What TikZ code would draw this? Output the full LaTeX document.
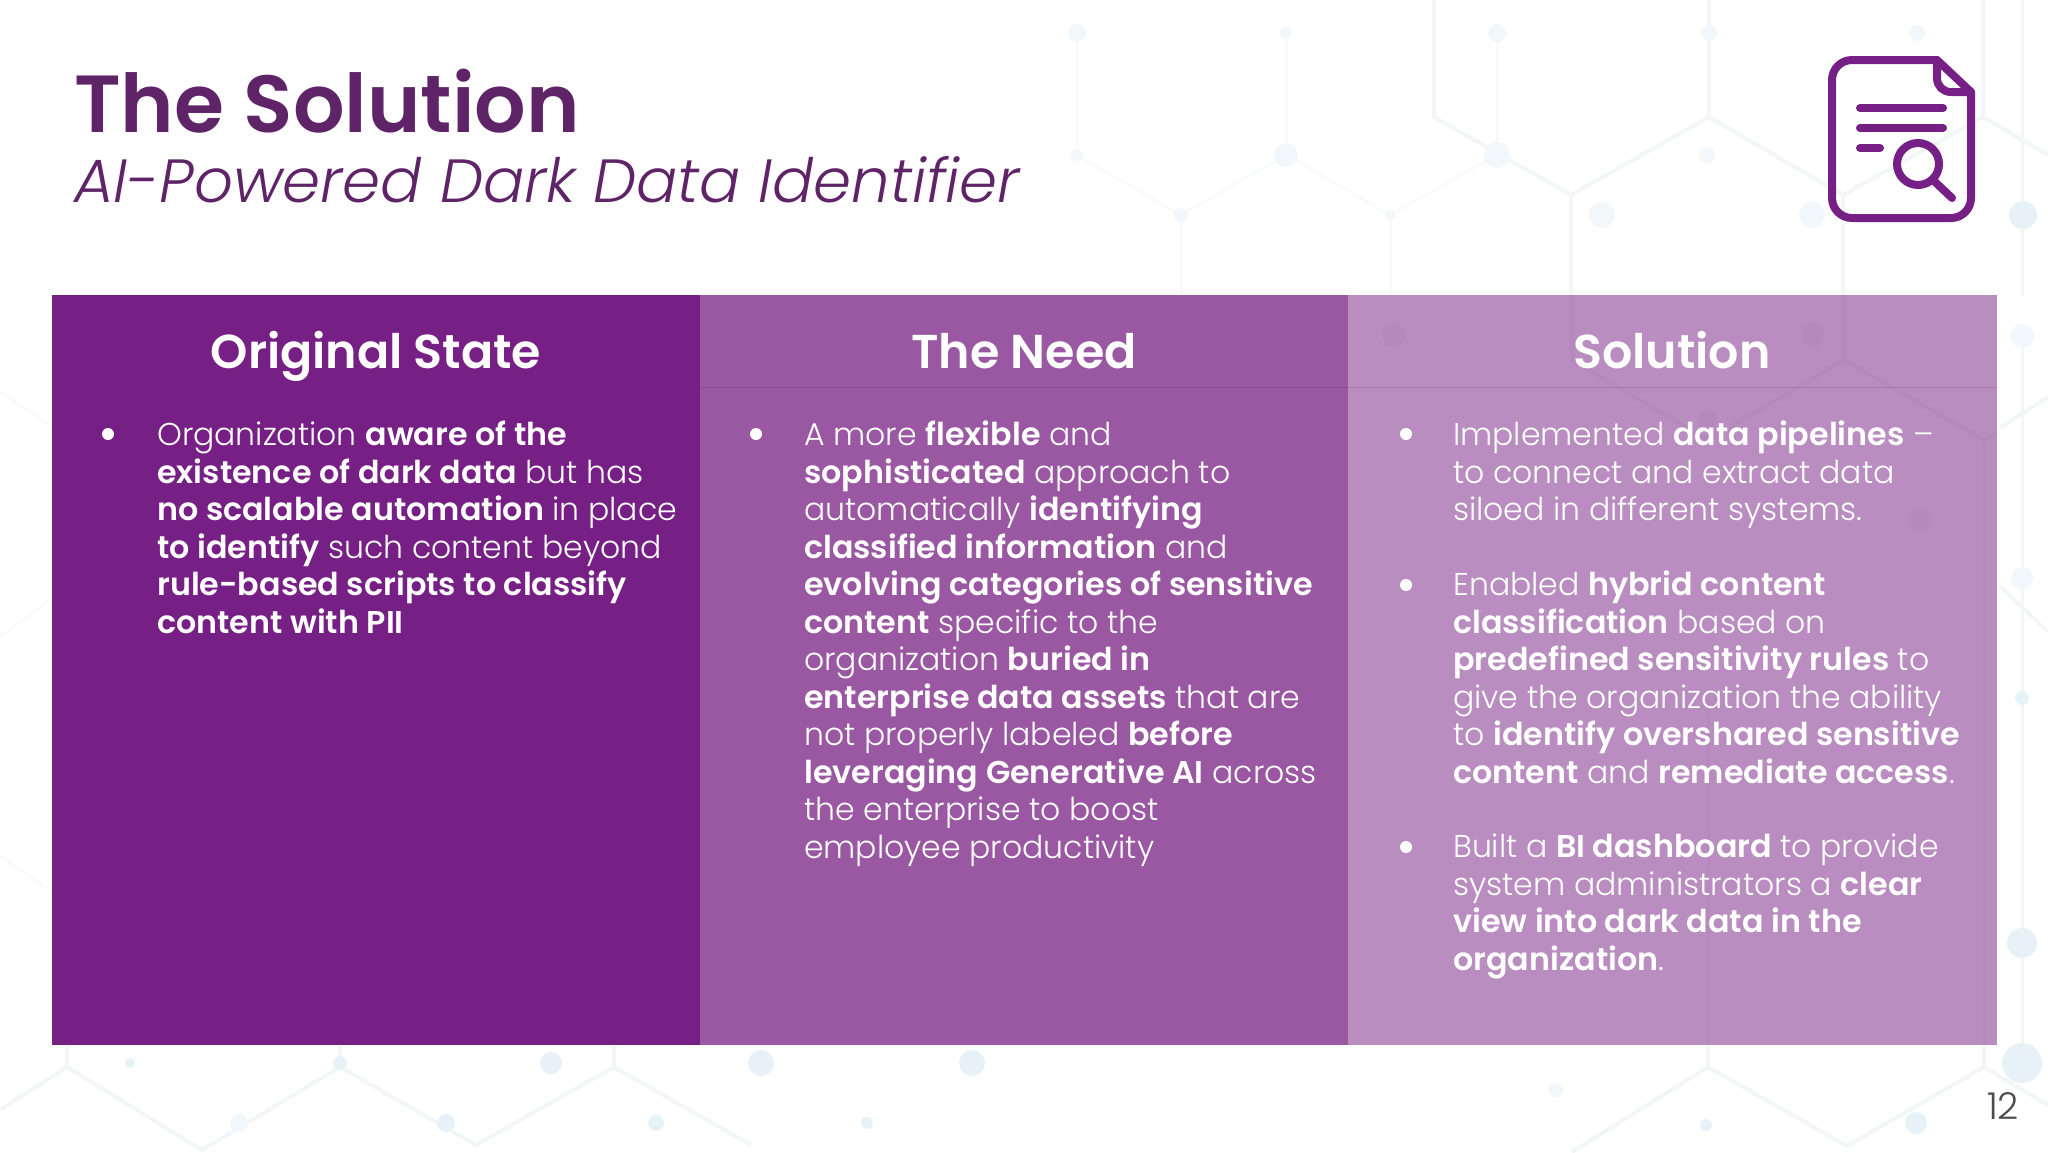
\documentclass[tikz,border=0pt]{standalone}
\usepackage{fontspec}
\setmainfont{Poppins}[UprightFont=* Light,ItalicFont=* Light Italic,BoldFont=* SemiBold,BoldFeatures={FakeStretch=1.008}]
\newfontfamily\headfont{Poppins SemiBold}
\definecolor{deeppurple}{HTML}{761F84}
\definecolor{midpurple}{HTML}{9A57A2}
\definecolor{palepurple}{HTML}{B98DC0}
\definecolor{titlepurple}{HTML}{5F2368}
\definecolor{hexline}{HTML}{F2F6F7}
\definecolor{hexfaint}{HTML}{F9FBFB}
\definecolor{hexdot}{HTML}{E6F2F7}
\definecolor{hexdotfaint}{HTML}{F1F7FA}
\tikzset{
  colbox/.style = {inner sep = 0, outer sep = 0},
  colhead/.style = {text = white, anchor = base, font = \headfont\fontsize{47.5}{48}\selectfont},
  coltext/.style = {text = white, anchor = north west, align = left, inner sep = 0, font = \fontsize{31.5}{37.5}\selectfont},
  colbullet/.style = {circle, fill = white, inner sep = 0, minimum size = 12},
  iconline/.style = {draw = deeppurple, line width = 8, line cap = round, line join = round}
}
\begin{document}
\begin{tikzpicture}[x = 1pt, y = -1pt]
\useasboundingbox (0,0) rectangle (2048,1152);
% background network
\draw [hexfaint, line width = 3] (1077,33) -- (1077,155) -- (1181,215) -- (1286,155) -- (1286,33);
\draw [hexfaint, line width = 3] (1286,155) -- (1390,215) -- (1497,155) -- (1497,33);
\draw [hexfaint, line width = 3] (1181,215) -- (1181,296);
\draw [hexfaint, line width = 3] (1390,215) -- (1390,296);
\draw [hexfaint, line width = 3] (0,392) -- (50,425);
\draw [hexfaint, line width = 3] (0,637) -- (50,600);
\draw [hexfaint, line width = 3] (0,856) -- (50,890);
\draw [hexline, line width = 4] (0,1110) -- (67,1067) -- (202,1150) -- (340,1067) -- (476,1145) -- (614,1067) -- (751,1145);
\draw [hexline, line width = 4] (67,1046) -- (67,1067);
\draw [hexline, line width = 4] (340,1046) -- (340,1067);
\draw [hexline, line width = 4] (614,1046) -- (614,1067);
\draw [hexline, line width = 4] (1572,1152) -- (1708,1067) -- (1847,1146) -- (1984,1067) -- (2048,1105);
\draw [hexline, line width = 4] (1708,1046) -- (1708,1067);
\draw [hexline, line width = 4] (1984,1046) -- (1984,1067);
\draw [hexline, line width = 4] (1434,0) -- (1434,117) -- (1571,195) -- (1709,117) -- (1709,0);
\draw [hexline, line width = 4] (1709,117) -- (1843,195) -- (1983,117) -- (1983,0);
\draw [hexline, line width = 4] (1983,117) -- (2048,155);
\draw [hexline, line width = 4] (1571,195) -- (1571,296);
\draw [hexline, line width = 4] (1843,195) -- (1843,296);
\draw [hexline, line width = 4] (2000,428) -- (2048,397);
\draw [hexline, line width = 4] (2000,586) -- (2048,632);
\draw [hexline, line width = 3] (2022,0) -- (2022,296);
\draw [hexline, line width = 3] (2022,336) -- (2022,1046);
\foreach \x/\y/\r in {1077/33/9,1286/33/6,1497/33/9,1709/33/8,1917/33/8,1077/155/6,1286/155/12,1497/155/13,1707/155/8,1181/215/7,1390/215/5,1602/215/13,1812/215/13,2022/336/12,2022/578/11,239/1123/9,1556/1090/7}
\fill [hexdotfaint] (\x,\y) circle (\r);
\foreach \x/\y/\r in {2023/215/14,2022/698/7,2022/943/15,2022/1063/20,130/1063/5,340/1063/7,551/1063/11,761/1063/13,972/1063/13,446/1123/9,656/1123/8,867/1123/6,1706/1125/6,1916/1123/11}
\fill [hexdot] (\x,\y) circle (\r);
% columns
\node (stateBox) [colbox, fill = deeppurple, minimum width = 648, minimum height = 750, anchor = north west] at (52,295) {};
\node (needBox) [colbox, fill = midpurple, minimum width = 648, minimum height = 750, anchor = north west] at (700,295) {};
\node (solutionBox) [colbox, fill = palepurple, minimum width = 649, minimum height = 750, anchor = north west] at (1348,295) {};
\draw [black, opacity = 0.1] (700,387) -- (1997,387);
% network showing through the last column
\draw [deeppurple, opacity = 0.035, line width = 4] (1572,295) -- (1572,360) -- (1708,440) -- (1844,360) -- (1984,440) -- (1997,432);
\draw [deeppurple, opacity = 0.035, line width = 4] (1844,295) -- (1844,360);
\draw [deeppurple, opacity = 0.035, line width = 3] (1984,440) -- (1984,1045);
\draw [deeppurple, opacity = 0.035, line width = 3] (1708,1045) -- (1708,700);
\foreach \x/\y/\r in {1394/335/12,1813/335/12,1708/420/10,1920/520/12}
\fill [deeppurple, opacity = 0.035] (\x,\y) circle (\r);
% title
\node (titleMain) at (74,101) [anchor = west, text = titlepurple, font = \headfont\fontsize{81}{81}\selectfont, inner sep = 0] {The Solution};
\node (titleSub) at (74,180) [anchor = west, text = titlepurple, font = \itshape\fontsize{61}{61}\selectfont, inner sep = 0] {AI-Powered Dark Data Identifier};
% icon
\draw [iconline, rounded corners = 20] (1937,60) -- (1832,60) -- (1832,218) -- (1971,218) -- (1971,92);
\draw [iconline] (1971,92) -- (1937,60) -- (1937,78) .. controls (1937,86) and (1943,92) .. (1951,92) -- (1971,92);
\draw [iconline] (1860,108) -- (1943,108);
\draw [iconline] (1860,128) -- (1943,128);
\draw [iconline] (1860,148) -- (1880,148);
\draw [iconline] (1918,164) circle (21);
\draw [iconline] (1933,180) -- (1952,198);
% headings
\node (stateHead) at (376,368) [colhead] {Original State};
\node (needHead) at (1024,368) [colhead] {The Need};
\node (solutionHead) at (1672,368) [colhead] {Solution};
% bullets
\foreach \n/\x/\y in {a/108/434,b/756/434,c/1406/434,d/1406/585,e/1406/847}
\node (dot\n) at (\x,\y) [colbullet] {};
% body text
\node (stateText) at (157,421) [coltext] {Organization \textbf{aware of the}\\
\textbf{existence of dark data} but has\\
\textbf{no scalable automation} in place\\
\textbf{to identify} such content beyond\\
\textbf{rule-based scripts to classify}\\
\textbf{content with PII}};
\node (needText) at (804,421) [coltext] {A more \textbf{flexible} and\\
\textbf{sophisticated} approach to\\
automatically \textbf{identifying}\\
\textbf{classified information} and\\
\textbf{evolving categories of sensitive}\\
\textbf{content} specific to the\\
organization \textbf{buried in}\\
\textbf{enterprise data assets} that are\\
not properly labeled \textbf{before}\\
\textbf{leveraging Generative AI} across\\
the enterprise to boost\\
employee productivity};
\node (pipeText) at (1453,421) [coltext] {Implemented \textbf{data pipelines} --\\
to connect and extract data\\
siloed in different systems.};
\node (hybridText) at (1453,571) [coltext] {Enabled \textbf{hybrid content}\\
\textbf{classification} based on\\
\textbf{predefined sensitivity rules} to\\
give the organization the ability\\
to \textbf{identify overshared sensitive}\\
\textbf{content} and \textbf{remediate access}.};
\node (dashText) at (1453,834) [coltext] {Built a \textbf{BI dashboard} to provide\\
system administrators a \textbf{clear}\\
\textbf{view into dark data in the}\\
\textbf{organization}.};
% page number
\node (pageNum) at (2003,1106) [text = black!70, font = \fontsize{37}{37}\selectfont, inner sep = 0] {12};
\end{tikzpicture}
\end{document}
